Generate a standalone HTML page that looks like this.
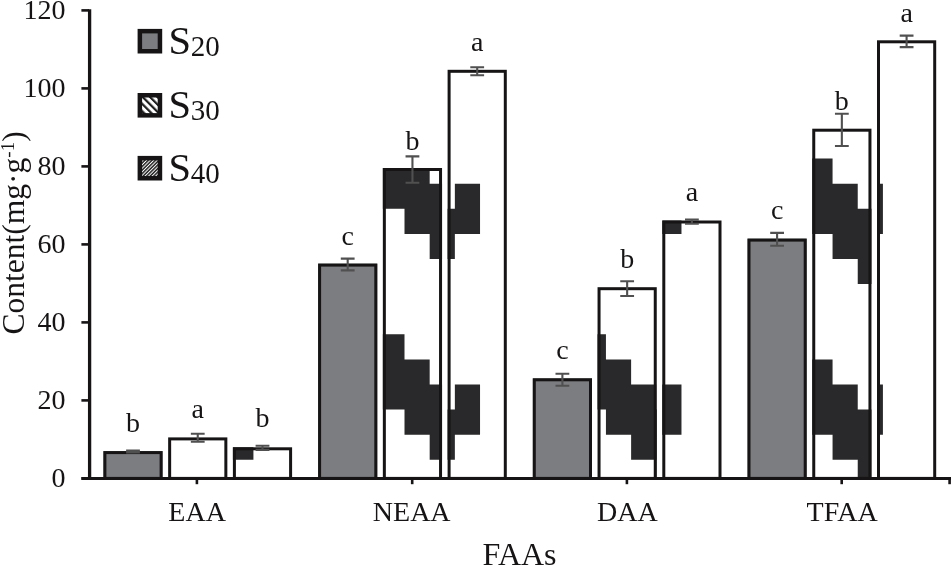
<!DOCTYPE html>
<html><head><meta charset="utf-8"><title>FAAs chart</title>
<style>
html,body{margin:0;padding:0;background:#fff;}
body{width:951px;height:566px;overflow:hidden;font-family:"Liberation Serif", serif;}
#w{will-change:transform;} svg{display:block;}
</style></head><body><div id="w">
<svg width="951" height="566" viewBox="0 0 951 566">
<rect width="951" height="566" fill="#fff"/>
<g>
<defs>
<clipPath id="c00"><rect x="103.40" y="451.10" width="59.20" height="27.30"/></clipPath>
<clipPath id="c01"><rect x="168.15" y="437.40" width="59.20" height="41.00"/></clipPath>
<clipPath id="c02"><rect x="232.90" y="447.30" width="59.20" height="31.10"/></clipPath>
<clipPath id="c10"><rect x="318.10" y="263.60" width="59.20" height="214.80"/></clipPath>
<clipPath id="c11"><rect x="382.85" y="168.00" width="59.20" height="310.40"/></clipPath>
<clipPath id="c12"><rect x="447.60" y="69.80" width="59.20" height="408.60"/></clipPath>
<clipPath id="c20"><rect x="532.80" y="378.30" width="59.20" height="100.10"/></clipPath>
<clipPath id="c21"><rect x="597.55" y="287.20" width="59.20" height="191.20"/></clipPath>
<clipPath id="c22"><rect x="662.30" y="220.50" width="59.20" height="257.90"/></clipPath>
<clipPath id="c30"><rect x="747.50" y="238.60" width="59.20" height="239.80"/></clipPath>
<clipPath id="c31"><rect x="812.25" y="128.70" width="59.20" height="349.70"/></clipPath>
<clipPath id="c32"><rect x="877.00" y="40.30" width="59.20" height="438.10"/></clipPath>
</defs>
<rect x="103.40" y="451.10" width="59.20" height="27.30" fill="#7c7d81"/>
<rect x="104.90" y="452.60" width="56.20" height="25.80" fill="none" stroke="#161414" stroke-width="3.0"/>
<rect x="168.15" y="437.40" width="59.20" height="41.00" fill="#ffffff"/>
<rect x="169.65" y="438.90" width="56.20" height="39.50" fill="none" stroke="#161414" stroke-width="3.0"/>
<rect x="232.90" y="447.30" width="59.20" height="31.10" fill="#ffffff"/>
<path clip-path="url(#c02)" fill="#29282a" d="M228.24 434.70h25.18v25.10h-25.18z"/>
<rect x="234.40" y="448.80" width="56.20" height="29.60" fill="none" stroke="#161414" stroke-width="3.0"/>
<rect x="318.10" y="263.60" width="59.20" height="214.80" fill="#7c7d81"/>
<rect x="319.60" y="265.10" width="56.20" height="213.30" fill="none" stroke="#161414" stroke-width="3.0"/>
<rect x="382.85" y="168.00" width="59.20" height="310.40" fill="#ffffff"/>
<path clip-path="url(#c11)" fill="#29282a" d="M379.32 158.60h25.18v25.10h-25.18zM379.32 183.70h25.18v25.10h-25.18zM379.32 334.30h25.18v25.10h-25.18zM379.32 359.40h25.18v25.10h-25.18zM379.32 384.50h25.18v25.10h-25.18zM404.50 158.60h25.18v25.10h-25.18zM404.50 183.70h25.18v25.10h-25.18zM404.50 208.80h25.18v25.10h-25.18zM404.50 359.40h25.18v25.10h-25.18zM404.50 384.50h25.18v25.10h-25.18zM404.50 409.60h25.18v25.10h-25.18zM429.68 183.70h25.18v25.10h-25.18zM429.68 208.80h25.18v25.10h-25.18zM429.68 233.90h25.18v25.10h-25.18zM429.68 384.50h25.18v25.10h-25.18zM429.68 409.60h25.18v25.10h-25.18zM429.68 434.70h25.18v25.10h-25.18z"/>
<rect x="384.35" y="169.50" width="56.20" height="308.90" fill="none" stroke="#161414" stroke-width="3.0"/>
<rect x="447.60" y="69.80" width="59.20" height="408.60" fill="#ffffff"/>
<path clip-path="url(#c12)" fill="#29282a" d="M429.68 208.80h25.18v25.10h-25.18zM429.68 233.90h25.18v25.10h-25.18zM429.68 409.60h25.18v25.10h-25.18zM429.68 434.70h25.18v25.10h-25.18zM454.86 183.70h25.18v25.10h-25.18zM454.86 208.80h25.18v25.10h-25.18zM454.86 384.50h25.18v25.10h-25.18zM454.86 409.60h25.18v25.10h-25.18z"/>
<rect x="449.10" y="71.30" width="56.20" height="407.10" fill="none" stroke="#161414" stroke-width="3.0"/>
<rect x="532.80" y="378.30" width="59.20" height="100.10" fill="#7c7d81"/>
<rect x="534.30" y="379.80" width="56.20" height="98.60" fill="none" stroke="#161414" stroke-width="3.0"/>
<rect x="597.55" y="287.20" width="59.20" height="191.20" fill="#ffffff"/>
<path clip-path="url(#c21)" fill="#29282a" d="M580.76 334.30h25.18v25.10h-25.18zM580.76 359.40h25.18v25.10h-25.18zM580.76 384.50h25.18v25.10h-25.18zM605.94 359.40h25.18v25.10h-25.18zM605.94 384.50h25.18v25.10h-25.18zM605.94 409.60h25.18v25.10h-25.18zM631.12 384.50h25.18v25.10h-25.18zM631.12 409.60h25.18v25.10h-25.18zM631.12 434.70h25.18v25.10h-25.18zM656.30 409.60h25.18v25.10h-25.18zM656.30 434.70h25.18v25.10h-25.18zM656.30 459.80h25.18v25.10h-25.18z"/>
<rect x="599.05" y="288.70" width="56.20" height="189.70" fill="none" stroke="#161414" stroke-width="3.0"/>
<rect x="662.30" y="220.50" width="59.20" height="257.90" fill="#ffffff"/>
<path clip-path="url(#c22)" fill="#29282a" d="M656.30 208.80h25.18v25.10h-25.18zM656.30 384.50h25.18v25.10h-25.18zM656.30 409.60h25.18v25.10h-25.18z"/>
<rect x="663.80" y="222.00" width="56.20" height="256.40" fill="none" stroke="#161414" stroke-width="3.0"/>
<rect x="747.50" y="238.60" width="59.20" height="239.80" fill="#7c7d81"/>
<rect x="749.00" y="240.10" width="56.20" height="238.30" fill="none" stroke="#161414" stroke-width="3.0"/>
<rect x="812.25" y="128.70" width="59.20" height="349.70" fill="#ffffff"/>
<path clip-path="url(#c31)" fill="#29282a" d="M807.38 158.60h25.18v25.10h-25.18zM807.38 183.70h25.18v25.10h-25.18zM807.38 208.80h25.18v25.10h-25.18zM807.38 359.40h25.18v25.10h-25.18zM807.38 384.50h25.18v25.10h-25.18zM807.38 409.60h25.18v25.10h-25.18zM832.56 183.70h25.18v25.10h-25.18zM832.56 208.80h25.18v25.10h-25.18zM832.56 233.90h25.18v25.10h-25.18zM832.56 384.50h25.18v25.10h-25.18zM832.56 409.60h25.18v25.10h-25.18zM832.56 434.70h25.18v25.10h-25.18zM857.74 208.80h25.18v25.10h-25.18zM857.74 233.90h25.18v25.10h-25.18zM857.74 259.00h25.18v25.10h-25.18zM857.74 409.60h25.18v25.10h-25.18zM857.74 434.70h25.18v25.10h-25.18zM857.74 459.80h25.18v25.10h-25.18z"/>
<rect x="813.75" y="130.20" width="56.20" height="348.20" fill="none" stroke="#161414" stroke-width="3.0"/>
<rect x="877.00" y="40.30" width="59.20" height="438.10" fill="#ffffff"/>
<path clip-path="url(#c32)" fill="#29282a" d="M857.74 183.70h25.18v25.10h-25.18zM857.74 208.80h25.18v25.10h-25.18zM857.74 384.50h25.18v25.10h-25.18zM857.74 409.60h25.18v25.10h-25.18z"/>
<rect x="878.50" y="41.80" width="56.20" height="436.60" fill="none" stroke="#161414" stroke-width="3.0"/>
<path d="M126.10 450.60H139.90M133.00 450.60V452.40M126.10 452.40H139.90" stroke="#505050" stroke-width="2.1" fill="none"/>
<path d="M190.85 433.80H204.65M197.75 433.80V441.80M190.85 441.80H204.65" stroke="#505050" stroke-width="2.1" fill="none"/>
<path d="M255.60 445.80H269.40M262.50 445.80V449.90M255.60 449.90H269.40" stroke="#505050" stroke-width="2.1" fill="none"/>
<path d="M340.80 258.60H354.60M347.70 258.60V270.40M340.80 270.40H354.60" stroke="#505050" stroke-width="2.1" fill="none"/>
<path d="M405.55 156.40H419.35M412.45 156.40V182.80M405.55 182.80H419.35" stroke="#505050" stroke-width="2.1" fill="none"/>
<path d="M470.30 67.20H484.10M477.20 67.20V75.30M470.30 75.30H484.10" stroke="#505050" stroke-width="2.1" fill="none"/>
<path d="M555.50 373.80H569.30M562.40 373.80V385.80M555.50 385.80H569.30" stroke="#505050" stroke-width="2.1" fill="none"/>
<path d="M620.25 281.20H634.05M627.15 281.20V296.00M620.25 296.00H634.05" stroke="#505050" stroke-width="2.1" fill="none"/>
<path d="M685.00 219.60H698.80M691.90 219.60V223.70M685.00 223.70H698.80" stroke="#505050" stroke-width="2.1" fill="none"/>
<path d="M770.20 232.90H784.00M777.10 232.90V245.70M770.20 245.70H784.00" stroke="#505050" stroke-width="2.1" fill="none"/>
<path d="M834.95 113.80H848.75M841.85 113.80V146.00M834.95 146.00H848.75" stroke="#505050" stroke-width="2.1" fill="none"/>
<path d="M899.70 35.60H913.50M906.60 35.60V47.10M899.70 47.10H913.50" stroke="#505050" stroke-width="2.1" fill="none"/>
<text x="133.00" y="432.00" font-family='"Liberation Serif", serif' font-size="28" text-anchor="middle" fill="#161414">b</text>
<text x="197.75" y="417.90" font-family='"Liberation Serif", serif' font-size="28" text-anchor="middle" fill="#161414">a</text>
<text x="262.50" y="427.30" font-family='"Liberation Serif", serif' font-size="28" text-anchor="middle" fill="#161414">b</text>
<text x="347.70" y="244.50" font-family='"Liberation Serif", serif' font-size="28" text-anchor="middle" fill="#161414">c</text>
<text x="412.45" y="149.70" font-family='"Liberation Serif", serif' font-size="28" text-anchor="middle" fill="#161414">b</text>
<text x="477.20" y="51.10" font-family='"Liberation Serif", serif' font-size="28" text-anchor="middle" fill="#161414">a</text>
<text x="562.40" y="359.30" font-family='"Liberation Serif", serif' font-size="28" text-anchor="middle" fill="#161414">c</text>
<text x="627.15" y="268.20" font-family='"Liberation Serif", serif' font-size="28" text-anchor="middle" fill="#161414">b</text>
<text x="691.90" y="201.40" font-family='"Liberation Serif", serif' font-size="28" text-anchor="middle" fill="#161414">a</text>
<text x="777.10" y="218.80" font-family='"Liberation Serif", serif' font-size="28" text-anchor="middle" fill="#161414">c</text>
<text x="841.85" y="109.60" font-family='"Liberation Serif", serif' font-size="28" text-anchor="middle" fill="#161414">b</text>
<text x="906.60" y="21.90" font-family='"Liberation Serif", serif' font-size="28" text-anchor="middle" fill="#161414">a</text>
<path d="M89.6 9.2V479.9" stroke="#161414" stroke-width="3.3" fill="none"/>
<path d="M81.4 478.4H951" stroke="#161414" stroke-width="3" fill="none"/>
<path d="M81.4 478.40H89" stroke="#161414" stroke-width="2.6" fill="none"/>
<text x="65.5" y="487.20" font-family='"Liberation Serif", serif' font-size="28" text-anchor="end" fill="#161414">0</text>
<path d="M81.4 400.40H89" stroke="#161414" stroke-width="2.6" fill="none"/>
<text x="65.5" y="409.20" font-family='"Liberation Serif", serif' font-size="28" text-anchor="end" fill="#161414">20</text>
<path d="M81.4 322.40H89" stroke="#161414" stroke-width="2.6" fill="none"/>
<text x="65.5" y="331.20" font-family='"Liberation Serif", serif' font-size="28" text-anchor="end" fill="#161414">40</text>
<path d="M81.4 244.40H89" stroke="#161414" stroke-width="2.6" fill="none"/>
<text x="65.5" y="253.20" font-family='"Liberation Serif", serif' font-size="28" text-anchor="end" fill="#161414">60</text>
<path d="M81.4 166.40H89" stroke="#161414" stroke-width="2.6" fill="none"/>
<text x="65.5" y="175.20" font-family='"Liberation Serif", serif' font-size="28" text-anchor="end" fill="#161414">80</text>
<path d="M81.4 88.40H89" stroke="#161414" stroke-width="2.6" fill="none"/>
<text x="65.5" y="97.20" font-family='"Liberation Serif", serif' font-size="28" text-anchor="end" fill="#161414">100</text>
<path d="M81.4 10.40H89" stroke="#161414" stroke-width="2.6" fill="none"/>
<text x="65.5" y="19.20" font-family='"Liberation Serif", serif' font-size="28" text-anchor="end" fill="#161414">120</text>
<path d="M196.9 478.4V484.2" stroke="#161414" stroke-width="2.6" fill="none"/>
<path d="M412.2 478.4V484.2" stroke="#161414" stroke-width="2.6" fill="none"/>
<path d="M626.9 478.4V484.2" stroke="#161414" stroke-width="2.6" fill="none"/>
<path d="M841.7 478.4V484.2" stroke="#161414" stroke-width="2.6" fill="none"/>
<path d="M949.6 478.4V484.2" stroke="#161414" stroke-width="2.6" fill="none"/>
<text x="197.1" y="520.6" font-family='"Liberation Serif", serif' font-size="28" text-anchor="middle" fill="#161414">EAA</text>
<text x="411.7" y="520.6" font-family='"Liberation Serif", serif' font-size="28" text-anchor="middle" fill="#161414">NEAA</text>
<text x="627.4" y="520.6" font-family='"Liberation Serif", serif' font-size="28" text-anchor="middle" fill="#161414">DAA</text>
<text x="842.1" y="520.6" font-family='"Liberation Serif", serif' font-size="28" text-anchor="middle" fill="#161414">TFAA</text>
<text x="519.5" y="565" font-family='"Liberation Serif", serif' font-size="32" text-anchor="middle" fill="#161414">FAAs</text>
<text transform="translate(24.2 334.4) rotate(-90)" font-family='"Liberation Serif", serif' font-size="31.5" fill="#161414">Content(mg&#183;g<tspan font-size="19" dy="-10">-1</tspan><tspan dy="10">)</tspan></text>
<defs>
<pattern id="h30" width="5.2" height="5.2" patternUnits="userSpaceOnUse" patternTransform="rotate(-45)"><rect width="5.2" height="5.2" fill="#fff"/><rect width="2.2" height="5.2" fill="#1e1e1e"/></pattern>
<pattern id="h40" width="2.5" height="2.5" patternUnits="userSpaceOnUse" patternTransform="rotate(45)"><rect width="2.5" height="2.5" fill="#fff"/><rect width="1.5" height="2.5" fill="#222"/></pattern>
</defs>
<rect x="139.85" y="31.15" width="20.10" height="20.10" fill="#7c7d81" stroke="#161414" stroke-width="4.5"/>
<text x="168.5" y="53.90" font-family='"Liberation Serif", serif' font-size="40.5" fill="#161414">S<tspan font-size="29" dx="-0.2" dy="1.6">20</tspan></text>
<rect x="139.85" y="95.25" width="20.10" height="20.10" fill="url(#h30)" stroke="#161414" stroke-width="4.5"/>
<text x="168.5" y="118.00" font-family='"Liberation Serif", serif' font-size="40.5" fill="#161414">S<tspan font-size="29" dx="-0.2" dy="1.6">30</tspan></text>
<rect x="139.85" y="158.15" width="20.10" height="20.10" fill="url(#h40)" stroke="#161414" stroke-width="4.5"/>
<text x="168.5" y="180.90" font-family='"Liberation Serif", serif' font-size="40.5" fill="#161414">S<tspan font-size="29" dx="-0.2" dy="1.6">40</tspan></text>
</g>
</svg>
</div></body></html>
